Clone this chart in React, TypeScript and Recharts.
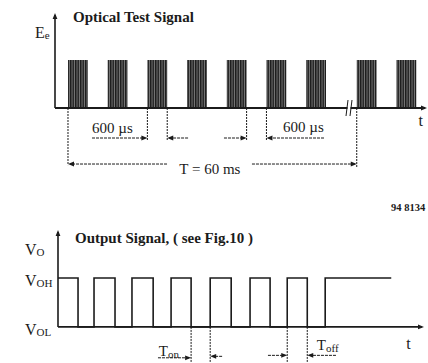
import { Area, ComposedChart, Line, ReferenceDot, ReferenceLine, XAxis, YAxis } from "recharts"

const INK = "#1b1b1b"
const SERIF = "'Liberation Serif', 'DejaVu Serif', 'Times New Roman', serif"
const serifStyle = { fontFamily: SERIF }

// Optical test signal. x is counted in 600 µs slots; the time axis is broken after the 7th burst.
const burstStarts = [0, 2, 4, 6, 8, 10, 12, 14.55, 16.55]
const burstLength = 1
const burstLevel = 1

// Output signal edges (same slot units), starting high at t = 0
const outputFalls = [1.04, 2.96, 4.94, 6.91, 8.99, 11.01, 12.94]
const outputRises = [1.87, 3.84, 5.87, 7.9, 9.97, 11.9, 13.87]
const outputEnd = 17.3
const VOL = 0
const VOH = 1

const burstData = burstStarts.flatMap((s) => [
    { t: s, e: 0 },
    { t: s, e: burstLevel },
    { t: s + burstLength, e: burstLevel },
    { t: s + burstLength, e: 0 },
])

const outputData = [
    { t: 0, v: VOH },
    ...outputFalls.flatMap((f, i) => [
        { t: f, v: VOH },
        { t: f, v: VOL },
        { t: outputRises[i], v: VOL },
        { t: outputRises[i], v: VOH },
    ]),
    { t: outputEnd, v: VOH },
]

// dimension lines for the upper diagram
const topExtensions = [
    { x: 0, y: -1.19 },
    { x: 4, y: -0.67 },
    { x: 5, y: -0.67 },
    { x: 9, y: -0.67 },
    { x: 10, y: -0.67 },
    { x: 14.55, y: -1.25 },
]
const topArrows = [
    { from: 1.21, to: 4, y: -0.625 },
    { from: 6.05, to: 5, y: -0.625 },
    { from: 7.86, to: 9, y: -0.625 },
    { from: 12.9, to: 10, y: -0.625 },
    { from: 4.99, to: 0, y: -1.167 },
    { from: 9.27, to: 14.55, y: -1.167 },
]
const topLabels = [
    { x: 2.24, y: -0.42, text: "600 µs" },
    { x: 11.86, y: -0.4, text: "600 µs" },
    { x: 7.15, y: -1.27, text: "T = 60 ms" },
]
const axisBreak = 14.16

// dimension lines for the lower diagram
const bottomExtensions = [6.91, 7.9, 11.9, 12.94]
const bottomArrows = [
    { from: 5.19, to: 6.91, y: -0.63 },
    { from: 8.52, to: 7.9, y: -0.6 },
    { from: 10.9, to: 11.9, y: -0.58 },
    { from: 14.43, to: 12.94, y: -0.58 },
]
const bottomLabels = [
    { x: 5.76, y: -0.5, main: "T", sub: "on" },
    { x: 14.0, y: -0.37, main: "T", sub: "off" },
]

type Seg = { x1: number; y1: number; x2: number; y2: number }

const arrowLine = (opts: { head?: boolean; dash?: string; width?: number }) => (p: Seg) => {
    const { x1, y1, x2, y2 } = p
    const dx = x2 - x1
    const dy = y2 - y1
    const len = Math.hypot(dx, dy) || 1
    const ux = dx / len
    const uy = dy / len
    const L = 6
    const W = 2.4
    return (
        <g>
            <line
                x1={x1}
                y1={y1}
                x2={opts.head ? x2 - ux * 2 : x2}
                y2={opts.head ? y2 - uy * 2 : y2}
                stroke={INK}
                strokeWidth={opts.width ?? 1}
                strokeDasharray={opts.dash}
            />
            {opts.head && (
                <polygon
                    points={`${x2},${y2} ${x2 - ux * L - uy * W},${y2 - uy * L + ux * W} ${x2 - ux * L + uy * W},${y2 - uy * L - ux * W}`}
                    fill={INK}
                />
            )}
        </g>
    )
}

const breakMark = (p: Seg) => {
    const cx = p.x1
    const cy = (p.y1 + p.y2) / 2
    return (
        <g stroke={INK} strokeWidth={1}>
            <rect x={cx - 1.5} y={cy - 2} width={3} height={4} fill="#fff" stroke="none" />
            <line x1={cx - 3} y1={cy + 8} x2={cx - 1} y2={cy - 8} />
            <line x1={cx + 1} y1={cy + 8} x2={cx + 3} y2={cy - 8} />
        </g>
    )
}

const textDot = (text: string, size = 15) => (p: { cx: number; cy: number }) => (
    <text x={p.cx} y={p.cy} textAnchor="middle" dominantBaseline="central" style={serifStyle} fontSize={size} fill={INK}>
        {text}
    </text>
)

const subDot = (main: string, sub: string) => (p: { cx: number; cy: number }) => (
    <text x={p.cx} y={p.cy} textAnchor="middle" dominantBaseline="central" style={serifStyle} fill={INK}>
        <tspan fontSize={15}>{main}</tspan>
        <tspan fontSize={11} dy={3}>
            {sub}
        </tspan>
    </text>
)

const levelTick = (p: any) => (
    <text x={25} y={p.y + 2} dominantBaseline="central" style={serifStyle} fill={INK}>
        <tspan fontSize={16}>V</tspan>
        <tspan fontSize={11} dy={3}>
            {p.payload.value === VOH ? "OH" : "OL"}
        </tspan>
    </text>
)

function OpticalSignal() {
    const xMin = -0.655
    const xMax = 18.09
    return (
        <ComposedChart width={428} height={180} data={burstData} margin={{ top: 12, right: 1, bottom: 4.8, left: 55 }}>
            <XAxis dataKey="t" type="number" domain={[xMin, xMax]} allowDataOverflow hide />
            <YAxis type="number" domain={[-1.4, 2]} allowDataOverflow hide />
            <Area
                type="linear"
                dataKey="e"
                stroke="none"
                fill="url(#burstHatch)"
                fillOpacity={1}
                dot={false}
                activeDot={false}
                isAnimationActive={false}
            />
            {/* axes */}
            <ReferenceLine
                segment={[{ x: xMin, y: 0 }, { x: xMin, y: 1.98 }]}
                ifOverflow="visible"
                shape={arrowLine({ head: true, width: 1.6 })}
            />
            <ReferenceLine
                segment={[{ x: xMin, y: 0 }, { x: xMax, y: 0 }]}
                ifOverflow="visible"
                shape={arrowLine({ head: true, width: 1.8 })}
            />
            <ReferenceLine segment={[{ x: axisBreak, y: -0.17 }, { x: axisBreak, y: 0.17 }]} ifOverflow="visible" shape={breakMark} />
            {topExtensions.map((e, i) => (
                <ReferenceLine
                    key={`ext${i}`}
                    segment={[{ x: e.x, y: 0 }, { x: e.x, y: e.y }]}
                    ifOverflow="visible"
                    shape={arrowLine({ dash: "2 1" })}
                />
            ))}
            {topArrows.map((a, i) => (
                <ReferenceLine
                    key={`arr${i}`}
                    segment={[{ x: a.from, y: a.y }, { x: a.to, y: a.y }]}
                    ifOverflow="visible"
                    shape={arrowLine({ head: true, dash: "3 1" })}
                />
            ))}
            {topLabels.map((l, i) => (
                <ReferenceDot key={`lbl${i}`} x={l.x} y={l.y} ifOverflow="visible" shape={textDot(l.text)} />
            ))}
            <ReferenceDot x={17.78} y={-0.27} ifOverflow="visible" shape={textDot("t", 16)} />
        </ComposedChart>
    )
}

function OutputSignal() {
    const xMax = 19
    return (
        <ComposedChart width={428} height={163} data={outputData} margin={{ top: 26, right: 4, bottom: 0.3, left: 0 }}>
            <XAxis dataKey="t" type="number" domain={[0, xMax]} allowDataOverflow hide />
            <YAxis
                type="number"
                domain={[-0.73, 2.06]}
                allowDataOverflow
                ticks={[VOL, VOH]}
                width={58}
                axisLine={false}
                tickLine={false}
                tick={levelTick}
            />
            <ReferenceLine
                segment={[{ x: 0, y: 0 }, { x: 0, y: 1.98 }]}
                ifOverflow="visible"
                shape={arrowLine({ head: true, width: 1.6 })}
            />
            <ReferenceLine
                segment={[{ x: 0, y: 0 }, { x: xMax, y: 0 }]}
                ifOverflow="visible"
                shape={arrowLine({ head: true, width: 1.8 })}
            />
            <Line
                type="linear"
                dataKey="v"
                stroke={INK}
                strokeWidth={1.6}
                dot={false}
                activeDot={false}
                isAnimationActive={false}
            />
            {bottomExtensions.map((x, i) => (
                <ReferenceLine
                    key={`bext${i}`}
                    segment={[{ x, y: 0 }, { x, y: -0.73 }]}
                    ifOverflow="visible"
                    shape={arrowLine({ dash: "2 1" })}
                />
            ))}
            {bottomArrows.map((a, i) => (
                <ReferenceLine
                    key={`barr${i}`}
                    segment={[{ x: a.from, y: a.y }, { x: a.to, y: a.y }]}
                    ifOverflow="visible"
                    shape={arrowLine({ head: true, dash: "3 1" })}
                />
            ))}
            {bottomLabels.map((l, i) => (
                <ReferenceDot key={`blbl${i}`} x={l.x} y={l.y} ifOverflow="visible" shape={subDot(l.main, l.sub)} />
            ))}
            <ReferenceDot x={18.2} y={-0.33} ifOverflow="visible" shape={textDot("t", 16)} />
        </ComposedChart>
    )
}

export default function App() {
    return (
        <div
            style={{
                position: "absolute",
                left: 0,
                top: 0,
                width: 428,
                height: 363,
                background: "#fff",
                overflow: "hidden",
                fontFamily: SERIF,
            }}
        >
            <svg width={0} height={0} style={{ position: "absolute" }}>
                <defs>
                    <pattern id="burstHatch" width={2.5} height={4} patternUnits="userSpaceOnUse">
                        <rect width={2.5} height={4} fill="#7a7a7a" />
                        <rect width={1.5} height={4} fill="#1c1c1c" />
                    </pattern>
                </defs>
            </svg>
            <div style={{ position: "absolute", left: 0, top: 0 }}>
                <OpticalSignal />
            </div>
            <div style={{ position: "absolute", left: 0, top: 200 }}>
                <OutputSignal />
            </div>
            <svg width={428} height={363} style={{ position: "absolute", left: 0, top: 0, pointerEvents: "none" }}>
                <g style={serifStyle} fill={INK}>
                    <text x={73} y={17} dominantBaseline="central" fontSize={15} fontWeight="bold">
                        Optical Test Signal
                    </text>
                    <text x={35} y={32} dominantBaseline="central">
                        <tspan fontSize={16}>E</tspan>
                        <tspan fontSize={11} dy={3}>
                            e
                        </tspan>
                    </text>
                    <text x={391} y={207} dominantBaseline="central" fontSize={10.5} fontWeight="bold">
                        94 8134
                    </text>
                    <text x={75} y={238} dominantBaseline="central" fontSize={15} fontWeight="bold">
                        Output Signal, ( see Fig.10 )
                    </text>
                    <text x={25} y={249} dominantBaseline="central">
                        <tspan fontSize={16}>V</tspan>
                        <tspan fontSize={11} dy={3}>
                            O
                        </tspan>
                    </text>
                </g>
            </svg>
        </div>
    )
}
